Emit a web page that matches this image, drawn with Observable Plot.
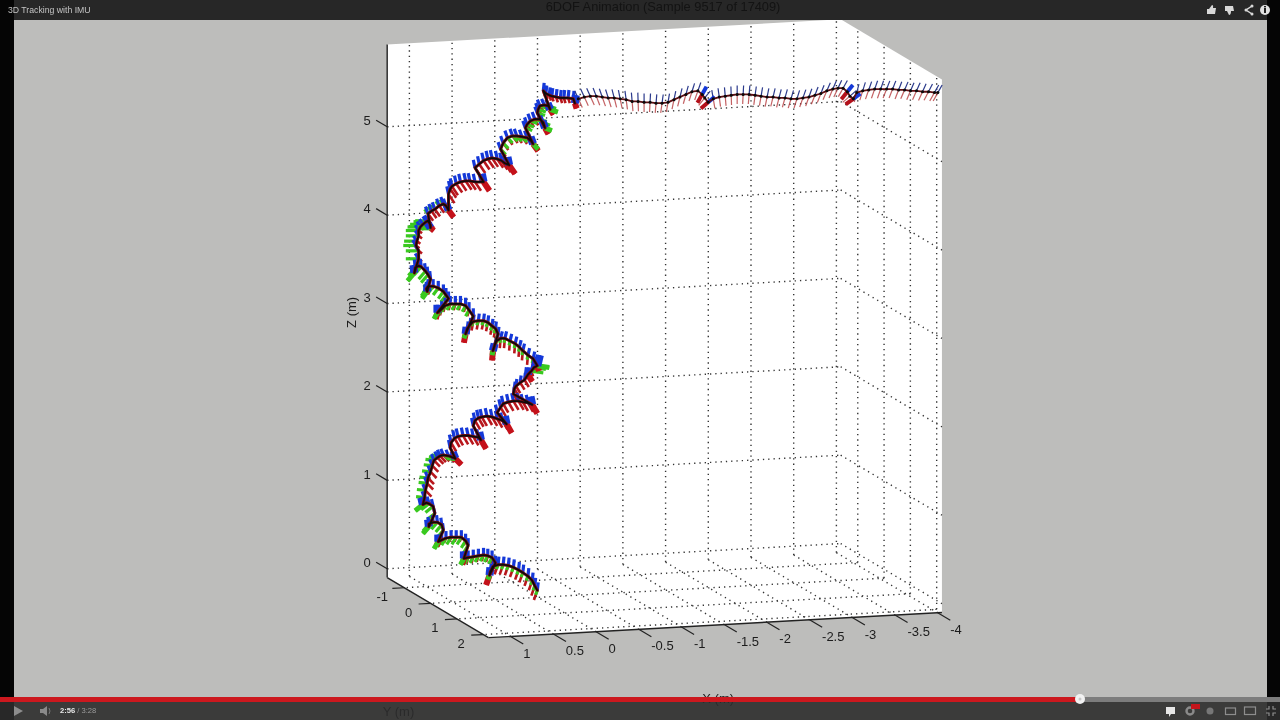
<!DOCTYPE html>
<html>
<head>
<meta charset="utf-8">
<script src="https://cdn.jsdelivr.net/npm/d3@7"></script>
<script src="https://cdn.jsdelivr.net/npm/@observablehq/plot@0.6"></script>
<style>
html,body{margin:0;padding:0;width:1280px;height:720px;overflow:hidden;background:#bdbdbb;font-family:"Liberation Sans",sans-serif}
.c{position:absolute}
#chart{position:absolute;left:0;top:0}
</style>
</head>
<body>
<div id="host"></div>
<div class="c" style="left:0;top:0;width:1280px;height:20px;background:#272727"></div>
<div class="c" style="left:0;top:0;width:14px;height:720px;background:#050505"></div>
<div class="c" style="left:1267px;top:0;width:13px;height:720px;background:#050505"></div>
<div class="c" style="left:0;top:702px;width:1280px;height:18px;background:rgba(44,44,44,0.9)"></div>
<div class="c" style="left:0;top:697px;width:1080px;height:5px;background:#cc181e"></div>
<div class="c" style="left:1080px;top:697px;width:200px;height:5px;background:#7d7d7d"></div>
<div class="c" style="left:8px;top:4px;font-size:8.7px;line-height:12px;color:#c4c4c4;filter:blur(0.3px)">3D Tracking with IMU</div>
<div class="c" style="left:463px;top:0;width:400px;text-align:center;font-size:12.8px;line-height:14px;color:#131313;filter:blur(0.4px)">6DOF Animation (Sample 9517 of 17409)</div>
<div class="c" style="left:60px;top:706px;font-size:7.6px;line-height:10px;color:#9a9a9a;filter:blur(0.2px)"><b style="color:#e8e8e8">2:56</b> / 3:28</div>
<svg class="c" style="left:0;top:0;filter:blur(0.4px)" width="1280" height="720" viewBox="0 0 1280 720">
  <circle cx="1080" cy="699" r="5" fill="#f2f2f2"/><circle cx="1080" cy="699" r="1.5" fill="#c8c8c8"/>
  <path d="M14 706 L14 716 L23 711 Z" fill="#8d8d8d"/>
  <path d="M40 709 H43 L47 706 V716 L43 713 H40 Z" fill="#8a8a8a"/><path d="M49 708 Q51 711 49 714" stroke="#777" fill="none"/>
  <path d="M1166 707 H1175 V714 H1171 L1169 717 V714 H1166 Z" fill="#e6e6e6"/>
  <circle cx="1190" cy="711" r="3.5" fill="none" stroke="#8a8a8a" stroke-width="2.4"/>
  <rect x="1191" y="704" width="9" height="5" fill="#c5151c"/>
  <circle cx="1210" cy="711" r="3.5" fill="#777"/>
  <rect x="1225.5" y="708" width="10" height="6.5" fill="none" stroke="#8d8d8d" stroke-width="1.2"/>
  <rect x="1244.5" y="707" width="11" height="7.5" fill="none" stroke="#8d8d8d" stroke-width="1.2"/>
  <path d="M1269 706 V709 H1266 M1273 706 V709 H1276 M1269 716 V713 H1266 M1273 716 V713 H1276" stroke="#8d8d8d" fill="none" stroke-width="1.2"/>
  <path d="M1207 9 H1209 L1212 5 Q1213.5 5 1213 8 H1216 L1215 14 H1207 Z" fill="#d8d8d8"/>
  <path d="M1225 6 H1233 L1234 11 H1231 Q1231 15 1229 15 L1227 11 H1225 Z" fill="#d8d8d8"/>
  <path d="M1252 6 L1246 10 L1252 14" stroke="#d8d8d8" stroke-width="1.5" fill="none"/>
  <circle cx="1252" cy="6" r="1.5" fill="#d8d8d8"/><circle cx="1246" cy="10" r="1.5" fill="#d8d8d8"/><circle cx="1252" cy="14" r="1.5" fill="#d8d8d8"/>
  <circle cx="1265" cy="10" r="5" fill="#e2e2e2"/><rect x="1264" y="8" width="2" height="5" fill="#222"/><rect x="1264" y="6" width="2" height="1.4" fill="#222"/>
</svg>
<script>
// Axis ticks (metres)
const xTicks = [1, 0.5, 0, -0.5, -1, -1.5, -2, -2.5, -3, -3.5, -4];
const yTicks = [-1, 0, 1, 2];
const zTicks = [0, 1, 2, 3, 4, 5];
const boxX = [-4.05, 1.26];
const boxY = [-1.65, 2.2];
const boxZ = [-0.1, 5.93];

// Climb: apparent X and Z of the sensor, step by step (m, read against the Y = 0 plane)
const stepLengths = [13,8,8,6,5,13,9,9,9,6,3,11,10,9,8,7,12,7,9,9,9,7,6,10];
const climbX = [
 .01,.04,.07,.12,.18,.23,.29,.35,.41,.47,.53,.56,.57,
 .50,.54,.59,.64,.70,.76,.82,.87,
 .82,.85,.90,.96,1.02,1.08,1.13,1.17,
 1.11,1.13,1.18,1.23,1.28,1.28,
 1.21,1.23,1.28,1.31,1.35,
 1.33,1.32,1.30,1.29,1.26,1.24,1.22,1.18,1.15,1.11,1.05,.99,.97,
 1.03,1.02,.98,.94,.88,.82,.76,.70,.67,
 .76,.74,.70,.66,.60,.54,.48,.42,.37,
 .48,.44,.41,.35,.29,.23,.18,.12,.07,
 .29,.28,.26,.21,.16,.12,.08,.05,.01,
 .06,.12,.18,.22,.27,.33,.39,.44,.49,.51,.53,
 .47,.50,.54,.59,.64,.70,.76,.80,.83,.85,
 .76,.81,.85,.91,.97,1.03,1.09,1.13,1.18,
 1.05,1.08,1.11,1.17,1.23,1.29,1.31,1.30,
 1.26,1.29,1.32,1.37,1.40,1.44,1.45,
 1.40,1.40,1.43,1.42,1.40,1.40,1.38,1.35,1.31,1.29,1.26,1.26,
 1.29,1.25,1.21,1.16,1.11,1.08,1.05,
 1.05,1.03,1.01,.96,.91,.85,.80,.74,.64,
 .74,.69,.64,.59,.54,.48,.43,.39,.34,
 .44,.41,.36,.30,.25,.19,.13,.08,.06,
 .15,.13,.09,.04,-.02,-.06,-.08,
 .01,0,-.02,-.07,-.12,-.14,
 -.06,-.09,-.13,-.16,-.21,-.26,-.30,-.35,-.41,-.43
];
const climbZ = [
 -.02,.03,.09,.14,.18,.21,.24,.26,.27,.27,.25,.19,.15,
 .29,.35,.37,.38,.37,.36,.35,.34,
 .49,.54,.58,.58,.58,.57,.55,.53,
 .66,.72,.75,.75,.73,.70,
 .85,.93,.96,.97,.95,
 1.03,1.11,1.19,1.25,1.32,1.39,1.45,1.48,1.50,1.51,1.50,1.48,1.47,
 1.59,1.65,1.70,1.72,1.73,1.73,1.72,1.71,1.68,
 1.84,1.90,1.93,1.94,1.95,1.94,1.92,1.90,1.86,
 1.99,2.05,2.09,2.11,2.12,2.12,2.11,2.10,2.08,
 2.20,2.26,2.29,2.33,2.36,2.42,2.46,2.50,2.52,
 2.60,2.64,2.69,2.73,2.77,2.80,2.83,2.83,2.80,2.75,2.69,
 2.88,2.94,2.97,3.01,3.03,3.03,3.02,2.98,2.94,2.88,
 3.08,3.15,3.20,3.22,3.22,3.22,3.20,3.16,3.12,
 3.28,3.32,3.36,3.40,3.42,3.42,3.39,3.36,
 3.50,3.55,3.59,3.64,3.65,3.63,3.57,
 3.73,3.82,3.88,3.93,3.99,4.05,4.09,4.12,4.15,4.16,4.11,4.08,
 4.24,4.27,4.29,4.33,4.35,4.33,4.28,
 4.46,4.52,4.55,4.58,4.60,4.61,4.61,4.60,4.60,
 4.76,4.80,4.84,4.86,4.87,4.86,4.84,4.81,4.79,
 4.97,5.04,5.10,5.12,5.12,5.11,5.10,5.06,5.03,
 5.21,5.25,5.29,5.31,5.31,5.27,5.21,
 5.38,5.42,5.46,5.47,5.46,5.42,
 5.63,5.60,5.58,5.57,5.56,5.55,5.55,5.55,5.54,5.49
];
// Orientation of the sensor on each step (apparent axis tips, m)
const blueDX  = [-.01,0,0,.01,.02,.03,.02,.02,.02,-.01,-.03,-.02,-.01,0,0,.01,.04,.03,.02,.02,.03,.03,.03,-.01];
const blueDZ  = [.09,.08,.08,.08,.08,.07,.09,.09,.09,.08,.12,.08,.08,.09,.08,.09,.06,.08,.09,.09,.08,.08,.07,.09];
const redDX   = [.04,.02,.02,0,0,-.07,-.06,-.06,-.06,-.05,-.02,.01,.02,.02,.01,0,-.04,-.06,-.07,-.07,-.06,-.04,-.04,-.02];
const redDZ   = [-.11,-.07,-.05,0,0,-.07,-.10,-.10,-.10,-.08,-.06,-.11,-.10,-.07,-.03,0,-.03,-.08,-.10,-.10,-.08,-.07,-.06,-.06];
const greenDX = [.02,.04,.05,.07,.09,.10,0,0,0,0,-.14,.01,.02,.04,.06,.08,.15,.04,0,0,-.06,-.08,-.09,0];
const greenDZ = [-.05,-.07,-.08,-.08,-.07,.01,0,0,0,0,-.02,-.05,-.05,-.07,-.08,-.09,0,.05,0,0,-.06,-.03,-.03,0];

// Level walk along the top
const walkX = [
 -.47,-.54,-.61,-.68,-.75,-.82,-.89,-.96,-1.03,-1.10,-1.17,-1.24,-1.31,-1.38,-1.45,-1.52,-1.59,-1.66,-1.73,-1.80,-1.87,-1.92,-1.95,-1.99,
 -2.05,-2.12,-2.19,-2.26,-2.33,-2.40,-2.47,-2.54,-2.61,-2.68,-2.75,-2.82,-2.89,-2.96,-3.03,-3.10,-3.17,-3.24,-3.31,-3.38,-3.45,-3.51,-3.57,-3.62,-3.65,-3.69,
 -3.73,-3.80,-3.87,-3.94,-4.01,-4.08,-4.15,-4.22,-4.29,-4.36,-4.43,-4.50,-4.57,-4.64,-4.68
];
const walkZ = [
 5.54,5.56,5.57,5.57,5.56,5.55,5.55,5.54,5.53,5.51,5.51,5.50,5.50,5.49,5.49,5.50,5.53,5.56,5.59,5.62,5.63,5.59,5.55,5.50,
 5.54,5.56,5.57,5.58,5.59,5.59,5.59,5.58,5.57,5.56,5.56,5.55,5.55,5.54,5.54,5.55,5.56,5.58,5.60,5.63,5.65,5.66,5.66,5.62,5.57,5.54,
 5.61,5.63,5.64,5.65,5.65,5.65,5.65,5.64,5.64,5.63,5.63,5.62,5.62,5.61,5.61
];
// Lean of the sensor on the walk (degrees from vertical, positive toward -X)
const walkLean = [
 -25,-25,-25,-22,-20,-18,-15,-12,-8,-5,-2,0,3,5,8,10,12,14,16,18,20,30,40,50,
 -10,-8,-5,-2,0,3,5,8,10,12,14,15,16,17,18,20,20,22,22,24,24,26,30,40,50,55,
 15,18,20,20,20,22,22,22,24,24,25,25,28,30,30
];

// --- fixed view of the 3D box: apparent position of a point in metres
const project = (X, Y, Z) => ({u: X - 0.308 * Y, v: Z - 0.0537 * X - 0.1765 * Y});
const seg = (a, b) => { const p = project(...a), q = project(...b); return {u1: p.u, v1: p.v, u2: q.u, v2: q.v}; };
const [x0, x1] = boxX, [y0, y1] = boxY, [z0, z1] = boxZ;

const outline = [[x1,y0,z0],[x1,y0,z1],[x0,y0,z1],[x0,y1,z1],[x0,y1,z0],[x1,y1,z0]].map(p => project(...p));
const grid = [
  ...xTicks.map(t => seg([t,y0,z0],[t,y0,z1])),
  ...xTicks.map(t => seg([t,y0,z0],[t,y1,z0])),
  ...yTicks.map(t => seg([x0,t,z0],[x0,t,z1])),
  ...yTicks.map(t => seg([x0,t,z0],[x1,t,z0])),
  ...zTicks.map(t => seg([x1,y0,t],[x0,y0,t])),
  ...zTicks.map(t => seg([x0,y0,t],[x0,y1,t]))
];
const axes = [seg([x1,y0,z0],[x1,y0,z1]), seg([x1,y0,z0],[x1,y1,z0]), seg([x1,y1,z0],[x0,y1,z0])];
const tickSegs = [
  ...xTicks.map(t => seg([t,y1,z0],[t,y1+0.48,z0])),
  ...yTicks.map(t => seg([x1,t,z0],[x1+0.14,t,z0])),
  ...zTicks.map(t => seg([x1,y0,t],[x1,y0-0.42,t]))
];
const lab = (v, X, Y, Z) => ({text: String(v), ...project(X, Y, Z)});
const xLabels = xTicks.map(t => lab(t, t, y1, z0));
const yLabels = yTicks.map(t => lab(t, x1, t, z0));
const zLabels = zTicks.map(t => lab(t, x1, y0, t));

// triads
let i = 0;
const climb = [];
stepLengths.forEach((n, s) => {
  for (let k = 0; k < n; k++, i++) climb.push({u: climbX[i], v: climbZ[i], s, last: k === n - 1});
});
const walk = walkX.map((u, j) => ({u, v: walkZ[j], lean: walkLean[j] * Math.PI / 180,
  last: j === 21 || j === 23 || j === 47 || j === 49}));
const tips = (arrU, arrV) => climb.map(d => ({u1: d.u, v1: d.v, u2: d.u + arrU[d.s], v2: d.v + arrV[d.s], last: d.last}));
const blue = tips(blueDX, blueDZ), red = tips(redDX, redDZ), green = tips(greenDX, greenDZ);
const stick = (len, sign) => walk.map(d => ({u1: d.u, v1: d.v, u2: d.u - sign * len * Math.sin(d.lean), v2: d.v + sign * len * Math.cos(d.lean), last: d.last}));
const walkBlue = stick(0.10, 1), walkRed = stick(0.11, -1);

const L = (data, o) => Plot.link(data, {x1: "u1", y1: "v1", x2: "u2", y2: "v2", ...o});
const T = (data, o) => Plot.text(data, {x: "u", y: "v", text: "text", fill: "#1c1c1c", fontSize: 13, ...o});
const lasts = a => a.filter(d => d.last);

const chart = Plot.plot({
  width: 1280, height: 720,
  marginTop: 0, marginRight: 0, marginBottom: 0, marginLeft: 0,
  x: {domain: [6.296, -8.692], range: [0, 1280], axis: null},
  y: {domain: [6.652, -1.493], range: [0, 720], axis: null},
  style: {background: "transparent", fontFamily: "Liberation Sans", filter: "blur(0.55px)"},
  marks: [
    Plot.line(outline, {x: "u", y: "v", fill: "white", stroke: "none"}),
    L(grid, {stroke: "#333", strokeWidth: 1.4, strokeDasharray: "1.3 4"}),
    L(axes, {stroke: "#222", strokeWidth: 1.4}),
    L(tickSegs, {stroke: "#222", strokeWidth: 1.2}),
    T(xLabels, {textAnchor: "start", dx: 12.5, dy: 17}),
    T(yLabels, {dx: -22, dy: 9}),
    T(zLabels, {dx: -20, dy: -6}),
    T([lab("Z (m)", x1, y0, 2.9)], {dx: -35, rotate: -90}),
    T([lab("X (m)", -1.5, y1, z0)], {dx: -6, dy: 74, fill: "#222"}),
    T([lab("Y (m)", x1, 0.3, z0)], {dx: -40, dy: 104, fill: "#151515"}),
    L(walkRed, {stroke: "#b5393c", strokeWidth: 1.2, strokeOpacity: 0.8}),
    L(red, {stroke: "#b8161c", strokeWidth: 2.6}),
    L(green, {stroke: "#39c91f", strokeWidth: 3.2}),
    L(blue, {stroke: "#1438d8", strokeWidth: 3.2}),
    L(walkBlue, {stroke: "#2b3a8c", strokeWidth: 1.2}),
    L(lasts(red), {stroke: "#c4111a", strokeWidth: 6}),
    L(lasts(walkRed), {stroke: "#b3101a", strokeWidth: 4}),
    L(lasts(walkBlue), {stroke: "#1438d8", strokeWidth: 4}),
    L(lasts(green), {stroke: "#39c91f", strokeWidth: 5}),
    L(lasts(blue), {stroke: "#1438d8", strokeWidth: 8}),
    Plot.line(climb, {x: "u", y: "v", stroke: "#7a0c10", strokeWidth: 3}),
    Plot.line(climb, {x: "u", y: "v", stroke: "#0b0b0b", strokeWidth: 1.6}),
    Plot.line(walk, {x: "u", y: "v", stroke: "#5e0f14", strokeWidth: 1.8}),
    Plot.dot(walk, {x: "u", y: "v", r: 1.5, fill: "#0a0a0a"})
  ]
});
chart.id = "chart";
document.getElementById("host").appendChild(chart);
</script>
</body>
</html>
